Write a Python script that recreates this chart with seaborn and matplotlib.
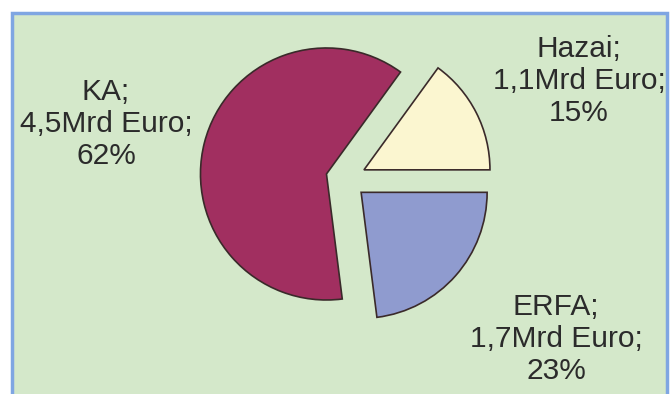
import matplotlib
matplotlib.use("Agg")
import matplotlib.pyplot as plt
from matplotlib.patches import Rectangle
import seaborn as sns

# Data (order: counter-clockwise from 3 o'clock)
names = ["Hazai", "KA", "ERFA"]
amounts = ["1,1Mrd Euro", "4,5Mrd Euro", "1,7Mrd Euro"]
shares = [15, 62, 23]
colors = sns.color_palette(["#fbf6d0", "#a12f60", "#8f9bcf"])

sns.set_theme(style="white")
plt.rcParams["font.family"] = ["Liberation Sans", "DejaVu Sans"]

W, H, DPI = 672, 394, 100
fig = plt.figure(figsize=(W / DPI, H / DPI), dpi=DPI, facecolor="white")

# green panel with blue frame (bottom edge runs off the image)
fig.patches.append(Rectangle((12 / W, -0.05), (667 - 12) / W, 1.05 - 13 / H,
                             transform=fig.transFigure, facecolor="#d4e8ca",
                             edgecolor="#7fa6e2", linewidth=2.5, zorder=0))

ax = fig.add_axes([0, 0, 1, 1])
ax.set_zorder(5)
ax.set_facecolor("none")
cx, cy, R = 346, 179, 126  # pixel centre / radius

wedges, texts = ax.pie(shares, colors=colors, startangle=0, counterclock=True,
                       explode=[0.16] * 3,
                       labels=[f"{n};\n{a};\n{s}%" for n, a, s in zip(names, amounts, shares)],
                       wedgeprops=dict(edgecolor="#3a2a2a", linewidth=1.2),
                       textprops=dict(fontsize=21.5, color="#2b2b2b",
                                      ha="center", va="center", linespacing=1.2))

# label centres in pixels (x, y from top)
label_px = [(579, 81), (106, 124), (556, 339)]
for t, (px, py) in zip(texts, label_px):
    t.set_position(((px - cx) / R, (cy - py) / R))
    t.set_ha("center")
    t.set_va("center")

ax.set_aspect("auto")
ax.set_xlim(-cx / R, (W - cx) / R)
ax.set_ylim((cy - H) / R, cy / R)
ax.axis("off")

fig.savefig("out.png", dpi=DPI, facecolor="white")
